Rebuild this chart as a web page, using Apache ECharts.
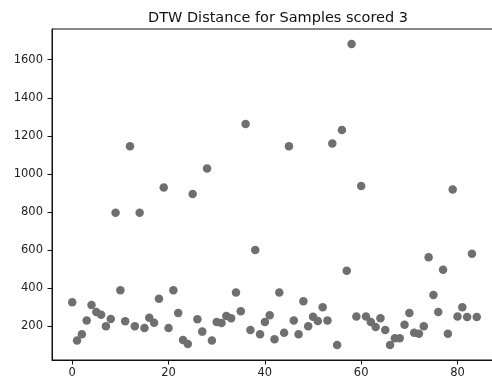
<!DOCTYPE html>
<html>
<head>
<meta charset="utf-8">
<script src="https://cdn.jsdelivr.net/npm/echarts@6/dist/echarts.min.js"></script>
<style>
  html, body { margin: 0; padding: 0; background: #fff; overflow: hidden; }
  #chart { width: 497px; height: 386px; }
</style>
</head>
<body>
<div id="chart"></div>
<script>
// sample index (x) and DTW distance (y)
var sampleIds = [
  0, 1, 2, 3, 4, 5, 6, 7, 8, 9, 10, 11, 12, 13, 14, 15, 16, 17, 18, 19, 20,
  21, 22, 23, 24, 25, 26, 27, 28, 29, 30, 31, 32, 33, 34, 35, 36, 37, 38, 39, 40,
  41, 42, 43, 44, 45, 46, 47, 48, 49, 50, 51, 52, 53, 54, 55, 56, 57, 58, 59, 60,
  61, 62, 63, 64, 65, 66, 67, 68, 69, 70, 71, 72, 73, 74, 75, 76, 77, 78, 79, 80,
  81, 82, 83, 84
];
var dtwValues = [
  326, 125, 158, 231, 312, 275, 261, 200, 238, 796, 389, 226, 1145, 200, 796, 191, 245, 219, 345, 929, 191,
  389, 270, 128, 107, 895, 237, 172, 1028, 125, 222, 217, 254, 242, 378, 279, 1262, 181, 600, 158, 222,
  258, 132, 378, 166, 1145, 231, 158, 331, 200, 250, 228, 300, 231, 1160, 102, 1231, 492, 1682, 252, 937,
  252, 222, 196, 242, 181, 102, 137, 137, 208, 270, 166, 161, 200, 562, 364, 275, 497, 161, 918, 252,
  300, 249, 581, 249
];
var xTicks = [0, 20, 40, 60, 80];
var yTicks = [200, 400, 600, 800, 1000, 1200, 1400, 1600];
var chartTitle = 'DTW Distance for Samples scored 3';

var points = [];
for (var i = 0; i < sampleIds.length; i++) {
  points.push([sampleIds[i], dtwValues[i]]);
}

var font = 'DejaVu Sans';
var myChart = echarts.init(document.getElementById('chart'), null, { renderer: 'canvas' });

var option = {
  backgroundColor: '#fff',
  animation: false,
  title: {
    text: chartTitle,
    left: 273,
    top: 6,
    textAlign: 'center',
    textStyle: { fontFamily: font, fontSize: 14.5, fontWeight: 'normal', color: '#111' }
  },
  grid: {
    left: 52,
    top: 29,
    right: 0,
    bottom: 26,
    show: true,
    borderColor: '#111',
    borderWidth: 1,
    backgroundColor: 'transparent'
  },
  xAxis: {
    type: 'value',
    min: -4.2,
    max: 88.2,
    splitLine: { show: false },
    axisLine: { show: true, onZero: false, lineStyle: { color: '#111', width: 1 } },
    axisTick: { show: true, length: 4.5, customValues: xTicks, lineStyle: { color: '#111' } },
    axisLabel: {
      customValues: xTicks,
      margin: 7,
      fontFamily: font,
      fontSize: 11.5,
      color: '#222',
      formatter: function(v) { return String(v); }
    }
  },
  yAxis: {
    type: 'value',
    min: 23,
    max: 1761,
    splitLine: { show: false },
    axisLine: { show: true, onZero: false, lineStyle: { color: '#111', width: 1 } },
    axisTick: { show: true, length: 4.5, customValues: yTicks, lineStyle: { color: '#111' } },
    axisLabel: {
      customValues: yTicks,
      margin: 9,
      fontFamily: font,
      fontSize: 11.5,
      color: '#222',
      formatter: function(v) { return String(v); }
    }
  },
  series: [{
    type: 'scatter',
    data: points,
    symbol: 'circle',
    symbolSize: 8.5,
    itemStyle: { color: '#6f6f6f', opacity: 1 }
  }]
};

myChart.setOption(option, true);

window.onresize = function() {
  myChart.resize();
};
</script>
</body>
</html>
